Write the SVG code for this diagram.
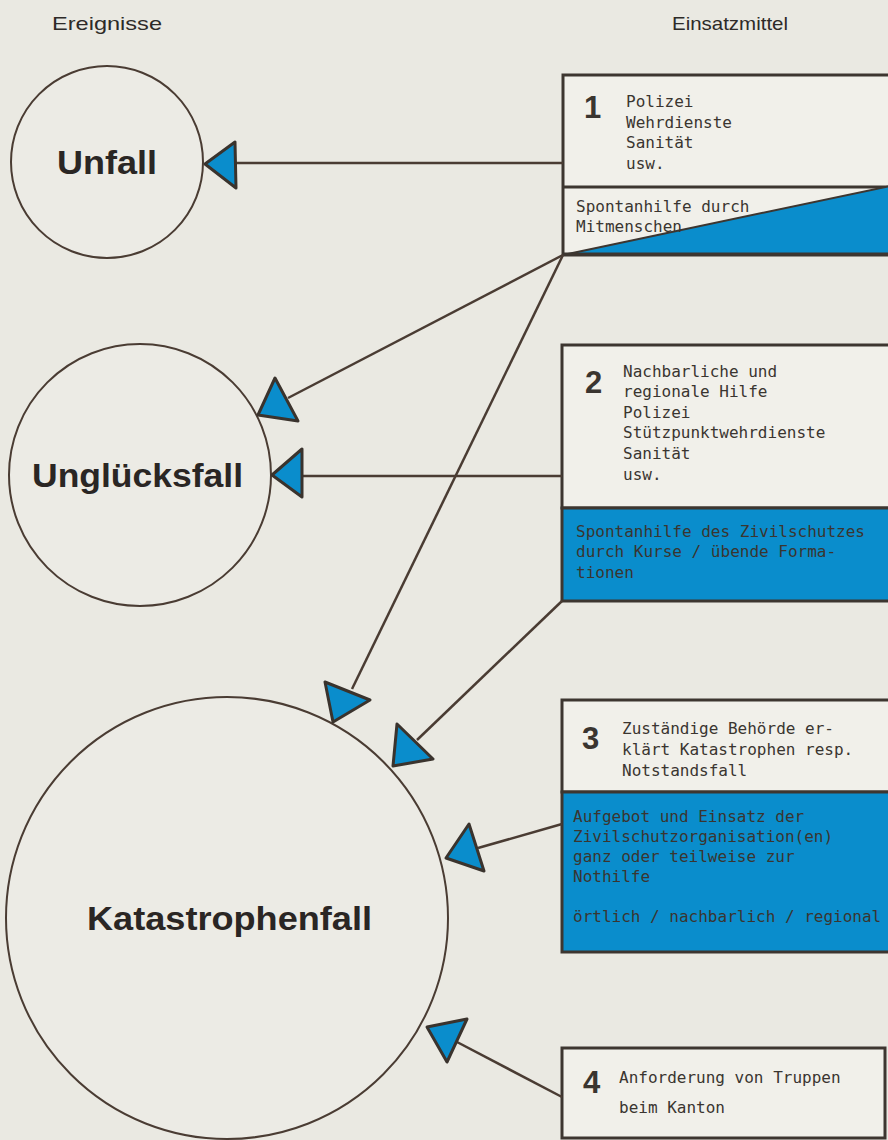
<svg xmlns="http://www.w3.org/2000/svg" width="888" height="1140" viewBox="0 0 888 1140">
<defs>
<style>
.bg{fill:#eae9e2}
.box{fill:#f1f0ea;stroke:#3d3630;stroke-width:3}
.blue{fill:#0a8dcc;stroke:#3d3630;stroke-width:3}
.circ{fill:#ecebe5;stroke:#4a3c33;stroke-width:2}
.line{stroke:#4a3c33;stroke-width:2.5;fill:none}
.arr{fill:#0a8dcc;stroke:#3a332d;stroke-width:3;stroke-linejoin:round}
.hdr{font-family:"Liberation Sans",Arial,sans-serif;font-size:19px;fill:#2d2a28}
.lbl{font-family:"Liberation Sans",Arial,sans-serif;font-weight:bold;font-size:34px;fill:#2a2624}
.num{font-family:"Liberation Sans",Arial,sans-serif;font-weight:bold;font-size:31px;fill:#3a3530}
.mono{font-family:"DejaVu Sans Mono","Liberation Mono",monospace;font-size:16px;fill:#3a3530}
</style>
</defs>
<rect class="bg" x="0" y="0" width="888" height="1140"/>

<text class="hdr" x="52" y="30" textLength="110" lengthAdjust="spacingAndGlyphs">Ereignisse</text>
<text class="hdr" x="672" y="30" textLength="116" lengthAdjust="spacingAndGlyphs">Einsatzmittel</text>

<g id="unfall">
<circle class="circ" cx="107" cy="162" r="96"/>
<text class="lbl" x="57" y="174" textLength="100" lengthAdjust="spacingAndGlyphs">Unfall</text>
</g>
<g id="ungluecksfall">
<circle class="circ" cx="140" cy="475" r="131"/>
<text class="lbl" x="32" y="487" textLength="211" lengthAdjust="spacingAndGlyphs">Unglücksfall</text>
</g>
<g id="katastrophenfall">
<circle class="circ" cx="227" cy="918" r="221"/>
<text class="lbl" x="87" y="930" textLength="285" lengthAdjust="spacingAndGlyphs">Katastrophenfall</text>
</g>

<g id="box1">
<rect class="box" x="563" y="75" width="340" height="180"/>
<line x1="563" y1="187" x2="903" y2="187" stroke="#3d3630" stroke-width="3"/>
<polygon points="566,254 890,186 890,254" fill="#0a8dcc"/>
<line x1="563" y1="255" x2="890" y2="186" stroke="#3d3630" stroke-width="2"/>
<line x1="563" y1="254" x2="903" y2="254" stroke="#3d3630" stroke-width="3"/>
<text class="num" x="584" y="118">1</text>
<text class="mono" x="626" y="107">Polizei</text>
<text class="mono" x="626" y="128">Wehrdienste</text>
<text class="mono" x="626" y="148">Sanität</text>
<text class="mono" x="626" y="169">usw.</text>
<text class="mono" x="576" y="212">Spontanhilfe durch</text>
<text class="mono" x="576" y="232">Mitmenschen</text>
</g>

<g id="box2">
<rect class="box" x="562" y="345" width="340" height="163"/>
<rect class="blue" x="562" y="508" width="340" height="93"/>
<text class="num" x="585" y="393">2</text>
<text class="mono" x="623" y="377">Nachbarliche und</text>
<text class="mono" x="623" y="397">regionale Hilfe</text>
<text class="mono" x="623" y="418">Polizei</text>
<text class="mono" x="623" y="438">Stützpunktwehrdienste</text>
<text class="mono" x="623" y="459">Sanität</text>
<text class="mono" x="623" y="480">usw.</text>
<text class="mono" x="576" y="537">Spontanhilfe des Zivilschutzes</text>
<text class="mono" x="576" y="557">durch Kurse / übende Forma-</text>
<text class="mono" x="576" y="578">tionen</text>
</g>

<g id="box3">
<rect class="box" x="562" y="700" width="340" height="92"/>
<rect class="blue" x="562" y="792" width="340" height="160"/>
<text class="num" x="582" y="749">3</text>
<text class="mono" x="622" y="734">Zuständige Behörde er-</text>
<text class="mono" x="622" y="755">klärt Katastrophen resp.</text>
<text class="mono" x="622" y="776">Notstandsfall</text>
<text class="mono" x="573" y="822">Aufgebot und Einsatz der</text>
<text class="mono" x="573" y="842">Zivilschutzorganisation(en)</text>
<text class="mono" x="573" y="862">ganz oder teilweise zur</text>
<text class="mono" x="573" y="882">Nothilfe</text>
<text class="mono" x="573" y="922">örtlich / nachbarlich / regional</text>
</g>

<g id="box4">
<rect class="box" x="562" y="1048" width="323" height="90"/>
<text class="num" x="583" y="1093">4</text>
<text class="mono" x="619" y="1083">Anforderung von Truppen</text>
<text class="mono" x="619" y="1113">beim Kanton</text>
</g>

<g id="connectors">
<line class="line" x1="563" y1="163" x2="236" y2="163"/>
<polygon class="arr" points="205,164 235,142 236,188"/>

<line class="line" x1="563" y1="255" x2="288" y2="398"/>
<polygon class="arr" points="258,415 275,378 298,421"/>

<line class="line" x1="562" y1="476" x2="302" y2="476"/>
<polygon class="arr" points="272,475 302,449 302,497"/>

<line class="line" x1="563" y1="255" x2="352" y2="689"/>
<polygon class="arr" points="333,722 325,682 370,700"/>

<line class="line" x1="562" y1="601" x2="417" y2="740"/>
<polygon class="arr" points="393,766 397,724 433,759"/>

<line class="line" x1="562" y1="824" x2="478" y2="848"/>
<polygon class="arr" points="446,858 469,824 484,871"/>

<line class="line" x1="562" y1="1097" x2="457" y2="1042"/>
<polygon class="arr" points="427,1027 467,1019 447,1062"/>
</g>
</svg>
